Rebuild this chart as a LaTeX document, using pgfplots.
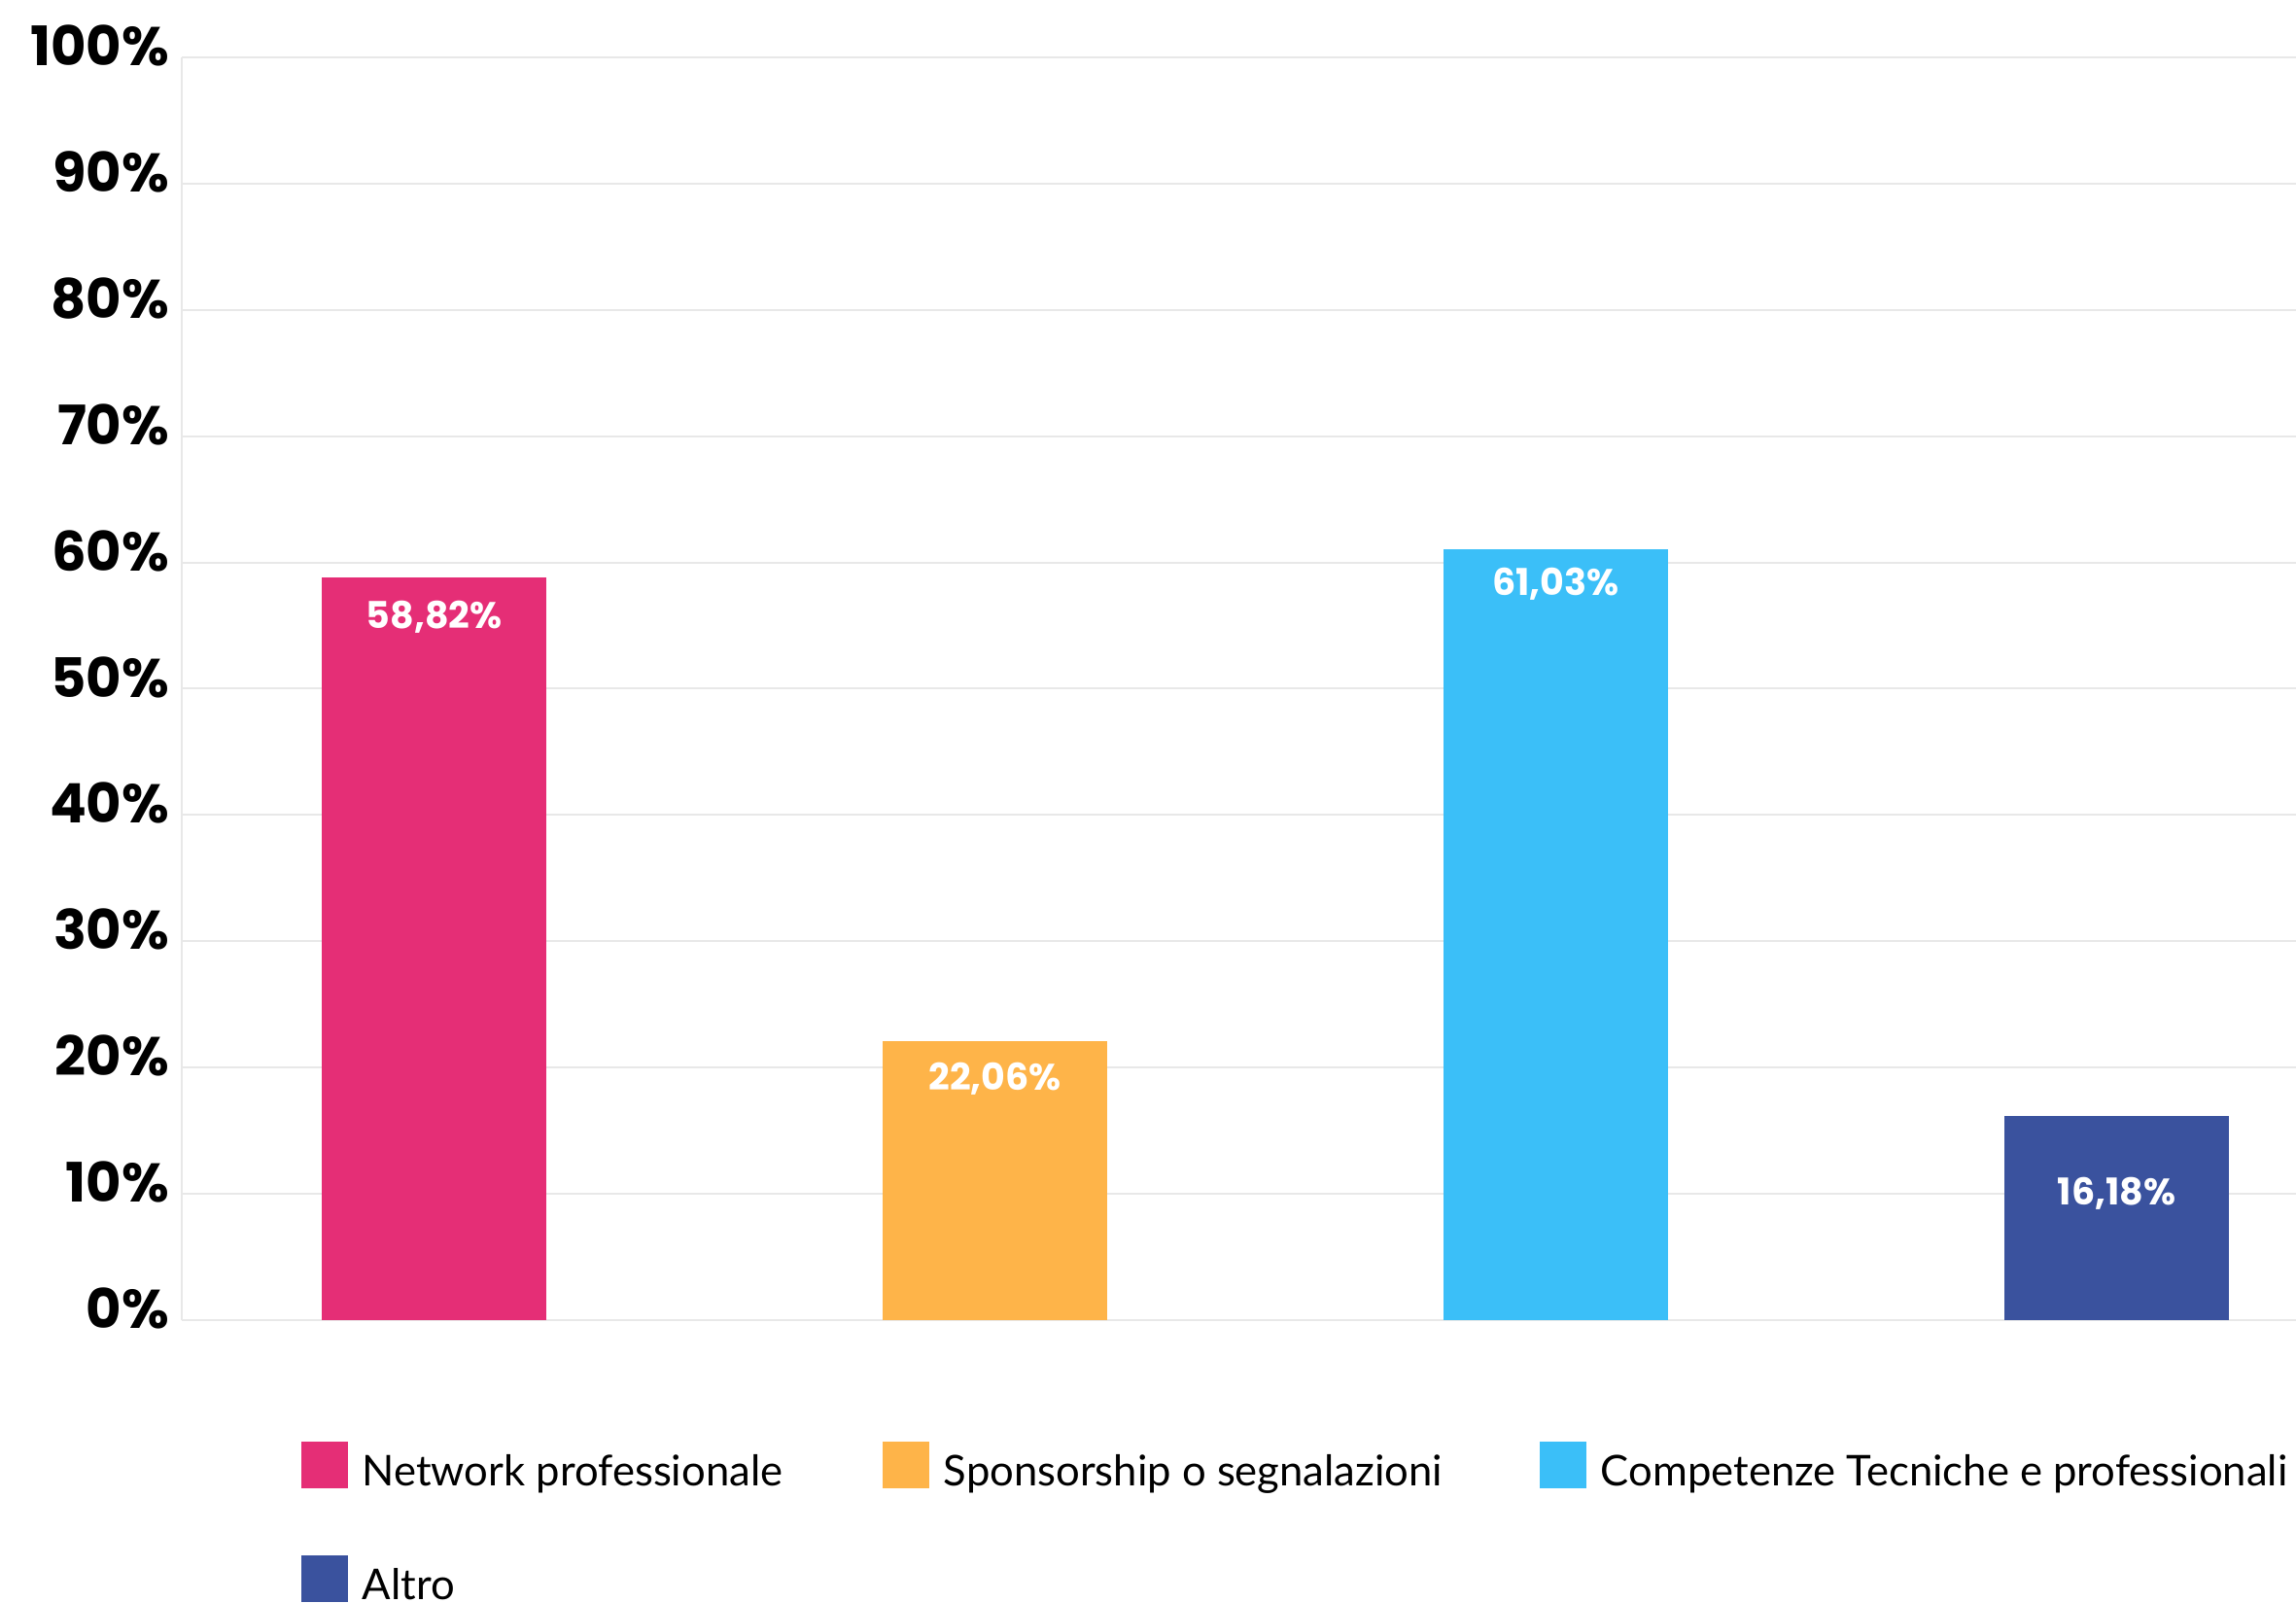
\documentclass[border=0pt]{standalone}
\usepackage{fontspec}
\setmainfont{Poppins}
\newfontfamily\legendfont{Lato}
\usepackage{pgfplots}
\pgfplotsset{compat=1.18}
\definecolor{netpink}{HTML}{E52E76}
\definecolor{sponsorange}{HTML}{FEB449}
\definecolor{compcyan}{HTML}{3BBFF8}
\definecolor{altroblue}{HTML}{3A529E}
\definecolor{gridgray}{HTML}{E8E8E8}
% one label style per bar: the offset below the bar top differs a little
\pgfplotsset{
  barlabel/.style={
    nodes near coords={#1},
    every node near coord/.append style={anchor=center, text=white,
      font=\bfseries\fontsize{9.5}{11}\selectfont}},
}
\begin{document}
\begin{tikzpicture}
\useasboundingbox (0,0) rectangle (590.5pt,412pt);
\begin{axis}[
  at={(46.75pt,72.5pt)}, anchor=south west,
  scale only axis, width=543.75pt, height=324.75pt,
  xmin=-0.45, xmax=3.32, ymin=0, ymax=100,
  clip=false,
  axis y line=left, axis x line=none,
  axis line style={-, draw=gridgray, line width=0.5pt},
  xtick=\empty,
  ytick={0,10,...,100},
  yticklabels={0\%,10\%,20\%,30\%,40\%,50\%,60\%,70\%,80\%,90\%,100\%},
  major tick length=0pt,
  ymajorgrids, grid style={draw=gridgray, line width=0.5pt},
  yticklabel style={font=\bfseries\fontsize{14}{16}\selectfont,
    inner sep=0pt, xshift=-3pt, yshift=3pt},
  legend image code/.code={\fill[#1] (0pt,-3.4pt) rectangle (12pt,8.6pt);},
  legend columns=3,
  legend style={at={(axis description cs:0.0561,-0.0954)}, anchor=north west,
    draw=none, fill=none, inner sep=0pt,
    font=\legendfont\fontsize{10.9}{13}\selectfont,
    nodes={inner sep=0pt, text height=8pt, text depth=2.5pt},
    column sep=3.75pt, row sep=15.4pt},
  legend cell align=left,
]
\addplot[ybar, bar width=0.4, bar shift=0pt, fill=netpink, draw=none,
  barlabel={58,82\%}, every node near coord/.append style={yshift=-10.25pt}]
  coordinates {(0,58.82)};
\addlegendentry{\makebox[130pt][l]{Network professionale}}
\addplot[ybar, bar width=0.4, bar shift=0pt, fill=sponsorange, draw=none,
  barlabel={22,06\%}, every node near coord/.append style={yshift=-9.5pt}]
  coordinates {(1,22.06)};
\addlegendentry{\makebox[149.5pt][l]{Sponsorship o segnalazioni}}
\addplot[ybar, bar width=0.4, bar shift=0pt, fill=compcyan, draw=none,
  barlabel={61,03\%}, every node near coord/.append style={yshift=-9pt}]
  coordinates {(2,61.03)};
\addlegendentry{Competenze Tecniche e professionali}
\addplot[ybar, bar width=0.4, bar shift=0pt, fill=altroblue, draw=none,
  barlabel={16,18\%}, every node near coord/.append style={yshift=-20pt}]
  coordinates {(3,16.18)};
\addlegendentry{Altro}
\end{axis}
\end{tikzpicture}
\end{document}
